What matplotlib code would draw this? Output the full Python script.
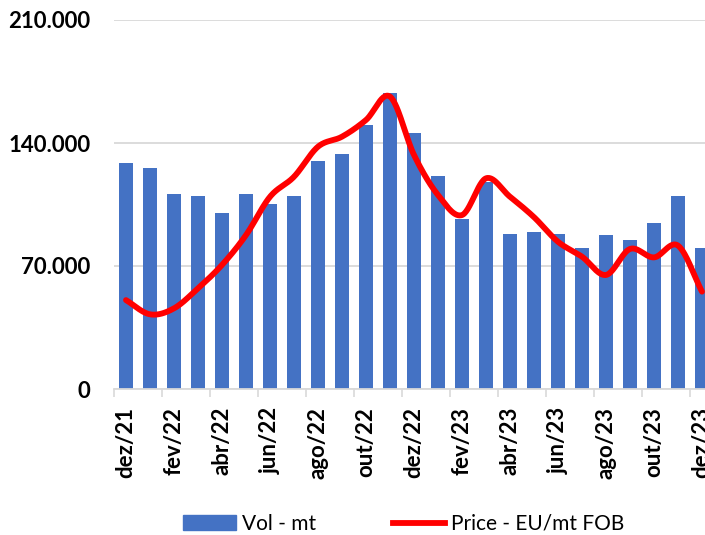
import numpy as np
import matplotlib
matplotlib.use("Agg")
import matplotlib.pyplot as plt
from matplotlib.patches import Patch
from matplotlib.lines import Line2D

months = ["dez/21", "jan/22", "fev/22", "mar/22", "abr/22", "mai/22", "jun/22",
          "jul/22", "ago/22", "set/22", "out/22", "nov/22", "dez/22", "jan/23",
          "fev/23", "mar/23", "abr/23", "mai/23", "jun/23", "jul/23", "ago/23",
          "set/23", "out/23", "nov/23", "dez/23"]
vol_mt = [128500, 125800, 111000, 109700, 100400, 111000, 105500, 109700,
          129600, 133900, 150200, 168600, 145500, 121000, 96700, 118000,
          88400, 89300, 88200, 80200, 87600, 84800, 94500, 109700, 80100]
price_fob = [50600, 42500, 45900, 57300, 70600, 87600, 109400, 120800,
             137900, 143600, 153100, 166400, 133200, 110400, 99000, 119900,
             109400, 97800, 83800, 75300, 64900, 79700, 74900, 81600, 55400]
y_ticks = [0, 70000, 140000, 210000]


def catmull_rom(x, y, n=30):
    # smooth curve through every point, like the "smoothed line" option in Excel
    px = np.concatenate(([2 * x[0] - x[1]], x, [2 * x[-1] - x[-2]]))
    py = np.concatenate(([2 * y[0] - y[1]], y, [2 * y[-1] - y[-2]]))
    t = np.linspace(0, 1, n)
    xs, ys = [], []
    for i in range(1, len(px) - 2):
        for p, out in ((px, xs), (py, ys)):
            p0, p1, p2, p3 = p[i - 1], p[i], p[i + 1], p[i + 2]
            out.append(0.5 * (2 * p1 + (-p0 + p2) * t
                              + (2 * p0 - 5 * p1 + 4 * p2 - p3) * t ** 2
                              + (-p0 + 3 * p1 - 3 * p2 + p3) * t ** 3))
    return np.concatenate(xs), np.concatenate(ys)


plt.rcParams['font.family'] = ['Lato', 'DejaVu Sans']

fig = plt.figure(figsize=(7.05, 5.35), dpi=100)
# the plot area runs past the right edge of the picture (last bar is cut)
ax = fig.add_axes([114 / 705, 146 / 535, 600 / 705, 369 / 535])

x = np.arange(len(months))
ax.bar(x, vol_mt, width=0.58, color="#4472C4", zorder=2)
sx, sy = catmull_rom(x.astype(float), np.array(price_fob, dtype=float))
ax.plot(sx, sy, color="#FF0000", lw=4.2, solid_capstyle="round", zorder=3)

ax.set_xlim(-0.5, len(months) - 0.5)
ax.set_ylim(0, 210000)
ax.set_yticks(y_ticks)
ax.set_yticklabels([f"{v:,}".replace(",", ".") for v in y_ticks],
                   fontsize=16, fontweight="bold")
ax.yaxis.grid(True, color="#D9D9D9", lw=1.3, zorder=0)
ax.tick_params(axis="y", length=0, pad=17)

ax.set_xticks(x[::2])
ax.set_xticklabels(months[::2], rotation=90, fontsize=16, fontweight="bold")
ax.set_xticks(np.arange(-0.5, len(months), 2), minor=True)
ax.tick_params(axis="x", which="major", length=0, pad=13)
ax.tick_params(axis="x", which="minor", length=6, width=1.2, color="#D9D9D9")

for s in ["top", "right", "left"]:
    ax.spines[s].set_visible(False)
ax.spines["bottom"].set_color("#D9D9D9")
ax.spines["bottom"].set_linewidth(1.3)

handles = [Patch(color="#4472C4"), Line2D([], [], color="#FF0000", lw=4.2)]
fig.legend(handles, ["Vol - mt", "Price - EU/mt FOB"], loc="center",
           bbox_to_anchor=(404 / 705, 11 / 535), ncol=2, frameon=False,
           fontsize=15, handlelength=2.5, handleheight=0.7,
           handletextpad=0.3, columnspacing=3.7)

fig.savefig("out.png", dpi=100)
